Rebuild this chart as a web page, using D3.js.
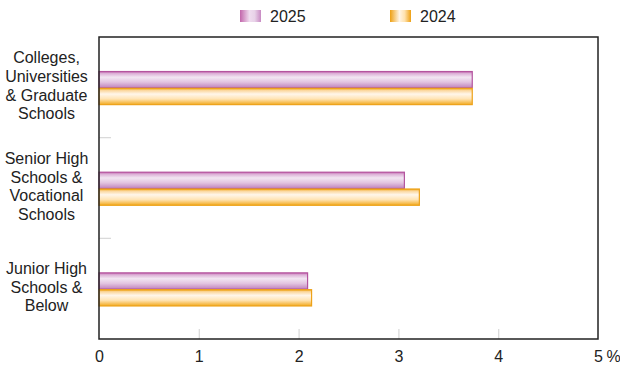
<!DOCTYPE html>
<html>
<head>
<meta charset="utf-8">
<script src="https://cdn.jsdelivr.net/npm/d3@7"></script>
<style>
  html, body { margin: 0; padding: 0; background: #fff; }
  svg { display: block; font-family: "Liberation Sans", Arial, sans-serif; }
</style>
</head>
<body>
<svg id="chart" width="620" height="366"></svg>
<script>
// Education level groups (top to bottom)
const categories = [
  ["Colleges,", "Universities", "& Graduate", "Schools"],
  ["Senior High", "Schools &", "Vocational", "Schools"],
  ["Junior High", "Schools &", "Below"]
];
const seriesNames = ["2025", "2024"];
const values2025 = [3.74, 3.06, 2.09];
const values2024 = [3.74, 3.21, 2.13];
const xTicks = [0, 1, 2, 3, 4, 5];

const svg = d3.select("#chart");
const margin = { left: 99, right: 22, top: 37, bottom: 27 };
const W = 620, H = 366;
const plotW = W - margin.left - margin.right;
const plotH = H - margin.top - margin.bottom;
const fontSize = 16;

// Gradients for the cylinder-like bars and the legend swatches
const defs = svg.append("defs");
function barGradient(id, stops) {
  const g = defs.append("linearGradient").attr("id", id)
    .attr("x1", 0).attr("y1", 0).attr("x2", 0).attr("y2", 1);
  stops.forEach(([o, c]) => g.append("stop").attr("offset", o).attr("stop-color", c));
}
function swatchGradient(id, stops) {
  const g = defs.append("linearGradient").attr("id", id)
    .attr("x1", 0).attr("y1", 0).attr("x2", 1).attr("y2", 0);
  stops.forEach(([o, c]) => g.append("stop").attr("offset", o).attr("stop-color", c));
}
barGradient("g2025", [[0, "#c266ae"], [0.12, "#dcb0d6"], [0.35, "#f2e6f2"], [0.65, "#e2c4e0"], [1, "#c082bc"]]);
barGradient("g2024", [[0, "#f0a10c"], [0.12, "#fbd69a"], [0.35, "#fff6ea"], [0.65, "#ffe4b4"], [1, "#f2a91e"]]);
swatchGradient("s2025", [[0, "#c266ab"], [0.45, "#efdcef"], [0.7, "#e8d2e8"], [1, "#c88ac3"]]);
swatchGradient("s2024", [[0, "#eea012"], [0.45, "#fff5e6"], [0.7, "#ffe2ae"], [1, "#eea012"]]);

const fills = { "2025": "url(#g2025)", "2024": "url(#g2024)" };
const strokes = { "2025": "#b4549e", "2024": "#eda21a" };
const swatches = { "2025": "url(#s2025)", "2024": "url(#s2024)" };

const x = d3.scaleLinear().domain([0, 5]).range([0, plotW]);
const y = d3.scaleBand().domain(d3.range(categories.length)).range([0, plotH]);
const yInner = d3.scaleBand().domain(seriesNames).range([0, 33.6]);

const g = svg.append("g").attr("transform", `translate(${margin.left},${margin.top})`);

// Bars
const data = categories.map((c, i) => ({ i, vals: { "2025": values2025[i], "2024": values2024[i] } }));
const groups = g.selectAll(".grp").data(data).join("g")
  .attr("transform", d => `translate(0,${y(d.i) + y.bandwidth() / 2 - 16.3})`);
groups.selectAll("rect").data(d => seriesNames.map(s => ({ s, v: d.vals[s] }))).join("rect")
  .attr("x", 0)
  .attr("y", d => yInner(d.s) + 0.5)
  .attr("width", d => x(d.v))
  .attr("height", yInner.bandwidth() - 0.5)
  .attr("fill", d => fills[d.s])
  .attr("stroke", d => strokes[d.s])
  .attr("stroke-width", 1.2);

// Category separator ticks (inside, gray)
const sepY = d3.range(1, categories.length).map(i => y(i));
g.selectAll(".sep").data(sepY).join("line")
  .attr("x1", 0).attr("x2", 12)
  .attr("y1", d => d).attr("y2", d => d)
  .attr("stroke", "#d8d8d8").attr("stroke-width", 1.2);

// X axis ticks (inside, gray) and labels
const xAxis = d3.axisBottom(x).tickValues(xTicks).tickSize(0).tickPadding(0).tickFormat(d3.format("d"));
const ax = g.append("g").attr("transform", `translate(0,${plotH})`).call(xAxis);
ax.select(".domain").remove();
ax.selectAll(".tick text")
  .attr("y", 22.5).attr("dy", 0)
  .attr("font-size", fontSize).attr("fill", "#222")
  .attr("font-family", "Liberation Sans, Arial, sans-serif");
ax.selectAll(".tick").filter(d => d > 0 && d < 5).append("line")
  .attr("y1", 0).attr("y2", -10)
  .attr("stroke", "#d8d8d8").attr("stroke-width", 1.2);
ax.selectAll(".tick").filter(d => d === 5).append("text")
  .attr("x", 8).attr("y", 22.5).attr("text-anchor", "start")
  .attr("font-size", fontSize).attr("fill", "#222").text("%");

// Plot frame
g.append("rect").attr("x", 0).attr("y", 0).attr("width", plotW).attr("height", plotH)
  .attr("fill", "none").attr("stroke", "#222").attr("stroke-width", 1.5);

// Category labels
const labels = svg.append("g").attr("font-size", fontSize).attr("fill", "#222").attr("text-anchor", "middle");
categories.forEach((lines, i) => {
  const cy = margin.top + y(i) + y.bandwidth() / 2 - 1.5;
  const lh = 18.7;
  const t = labels.append("text").attr("x", 46.5);
  lines.forEach((ln, k) => {
    t.append("tspan").attr("x", 46.5)
      .attr("y", cy + (k - (lines.length - 1) / 2) * lh + 5.5)
      .text(ln);
  });
});

// Legend
const legendPos = { "2025": 240, "2024": 390 };
const legend = svg.append("g");
seriesNames.forEach(s => {
  legend.append("rect").attr("x", legendPos[s]).attr("y", 10).attr("width", 21).attr("height", 12)
    .attr("fill", swatches[s]);
  legend.append("text").attr("x", legendPos[s] + 30).attr("y", 22)
    .attr("font-size", fontSize).attr("fill", "#222").text(s);
});
</script>
</body>
</html>
